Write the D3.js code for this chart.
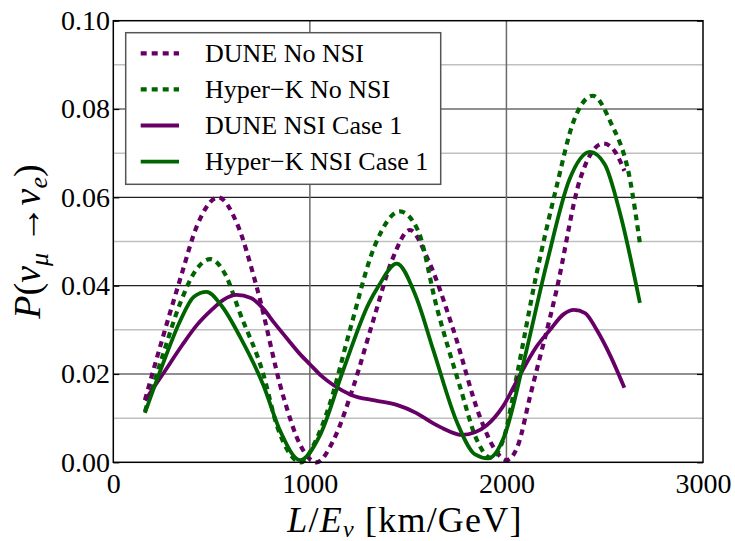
<!DOCTYPE html>
<html>
<head>
<meta charset="utf-8">
<script src="https://cdn.jsdelivr.net/npm/d3@7"></script>
<style>
  html, body { margin: 0; padding: 0; background: #fff; }
  svg { display: block; font-family: "Liberation Serif", "DejaVu Serif", serif; }
</style>
</head>
<body>
<svg id="chart" width="735" height="541"></svg>
<script>
// ---- Data ----
const xTicks = [0, 1000, 2000, 3000];
const yTicks = [0.00, 0.02, 0.04, 0.06, 0.08, 0.10];
const yMinor = [0.01, 0.03, 0.05, 0.07, 0.09];

const duneNoNsiX = [161, 250, 339, 430, 534, 630, 729, 865, 950, 1035, 1120, 1221, 1323, 1420, 1509, 1600, 1730, 1865, 1940, 2001, 2060, 2120, 2255, 2374, 2493, 2550, 2600];
const duneNoNsiP = [0.0141, 0.028, 0.0413, 0.054, 0.060, 0.054, 0.0398, 0.0149, 0.004, 0.0, 0.005, 0.0171, 0.0322, 0.046, 0.0526, 0.046, 0.030, 0.0103, 0.003, 0.0005, 0.004, 0.0149, 0.039, 0.064, 0.0722, 0.0705, 0.066];

const hkNoNsiX = [161, 250, 340, 420, 493, 570, 645, 763, 831, 900, 955, 1020, 1100, 1204, 1330, 1458, 1550, 1645, 1764, 1850, 1920, 1990, 2052, 2150, 2255, 2340, 2439, 2530, 2629, 2679];
const hkNoNsiP = [0.0115, 0.024, 0.036, 0.0435, 0.046, 0.0425, 0.0337, 0.020, 0.0085, 0.0018, 0.0, 0.004, 0.013, 0.030, 0.049, 0.0568, 0.0525, 0.0352, 0.0171, 0.005, 0.001, 0.006, 0.0194, 0.042, 0.0624, 0.077, 0.083, 0.077, 0.0639, 0.0496];

const duneNsiX = [161, 254, 350, 424, 500, 560, 628, 700, 763, 820, 899, 950, 1000, 1060, 1119, 1213, 1330, 1442, 1540, 1628, 1700, 1772, 1840, 1900, 1980, 2069, 2150, 2222, 2290, 2344, 2400, 2459, 2530, 2600];
const duneNsiP = [0.014, 0.0201, 0.0265, 0.031, 0.0345, 0.0368, 0.0379, 0.0372, 0.0348, 0.0315, 0.0272, 0.0245, 0.0222, 0.0195, 0.0175, 0.0152, 0.014, 0.013, 0.0112, 0.0088, 0.0072, 0.0062, 0.0068, 0.0084, 0.0125, 0.0198, 0.026, 0.030, 0.0335, 0.0345, 0.0338, 0.030, 0.024, 0.0169];

const hkNsiX = [161, 250, 340, 410, 475, 550, 645, 763, 850, 950, 1050, 1170, 1300, 1348, 1442, 1540, 1628, 1750, 1840, 1908, 1990, 2086, 2205, 2320, 2425, 2500, 2578, 2679];
const hkNsiP = [0.0112, 0.022, 0.032, 0.0375, 0.0386, 0.0355, 0.0284, 0.0175, 0.007, 0.0005, 0.006, 0.0209, 0.036, 0.0398, 0.045, 0.0375, 0.0254, 0.0089, 0.0018, 0.0009, 0.006, 0.0224, 0.045, 0.064, 0.0703, 0.0675, 0.0564, 0.0361];

const seriesNames = ["DUNE No NSI", "Hyper\u2212K No NSI", "DUNE NSI Case 1", "Hyper\u2212K NSI Case 1"];
const seriesColors = ["#660066", "#006400", "#660066", "#006400"];
const seriesDashed = [true, true, false, false];
const seriesX = [duneNoNsiX, hkNoNsiX, duneNsiX, hkNsiX];
const seriesP = [duneNoNsiP, hkNoNsiP, duneNsiP, hkNsiP];

// ---- Layout ----
const X0 = 113.3, X1 = 703, Y0 = 20.7, Y1 = 462.3;
const svg = d3.select("#chart");
const x = d3.scaleLinear().domain([0, 3000]).range([X0, X1]);
const y = d3.scaleLinear().domain([0, 0.1]).range([Y1, Y0]);

// grid: minor horizontal
svg.append("g").selectAll("line").data(yMinor).join("line")
  .attr("x1", X0).attr("x2", X1)
  .attr("y1", d => y(d)).attr("y2", d => y(d))
  .attr("stroke", "#c0c0c0").attr("stroke-width", 1.5);
// major horizontal
svg.append("g").selectAll("line").data(yTicks.filter(d => d > 0 && d < 0.1)).join("line")
  .attr("x1", X0).attr("x2", X1)
  .attr("y1", d => y(d)).attr("y2", d => y(d))
  .attr("stroke", "#222").attr("stroke-width", 1.2);
// vertical
svg.append("g").selectAll("line").data(xTicks.filter(d => d > 0 && d < 3000)).join("line")
  .attr("x1", d => x(d)).attr("x2", d => x(d))
  .attr("y1", Y0).attr("y2", Y1)
  .attr("stroke", "#6a6a6a").attr("stroke-width", 1.5);

// curves
const line = d3.line().curve(d3.curveMonotoneX);
seriesNames.forEach((name, i) => {
  const pts = seriesX[i].map((v, j) => [x(v), y(seriesP[i][j])]);
  svg.append("path")
    .attr("d", line(pts))
    .attr("fill", "none")
    .attr("stroke", seriesColors[i])
    .attr("stroke-width", seriesDashed[i] ? 4.2 : 3.8)
    .attr("stroke-dasharray", seriesDashed[i] ? "6,5" : null)
    .attr("stroke-linejoin", "round");
});

// frame
svg.append("rect").attr("x", X0).attr("y", Y0).attr("width", X1 - X0).attr("height", Y1 - Y0)
  .attr("fill", "none").attr("stroke", "#000").attr("stroke-width", 1.5);

// axes
const yAxis = d3.axisLeft(y).tickValues(yTicks).tickFormat(d3.format(".2f")).tickSize(0).tickPadding(3.3);
const gy = svg.append("g").attr("transform", `translate(${X0},0)`).call(yAxis);
gy.select(".domain").remove();
gy.selectAll("text").attr("font-size", 28).attr("font-family", "Liberation Serif").attr("fill", "#000");

const xAxis = d3.axisBottom(x).tickValues(xTicks).tickFormat(d3.format("d")).tickSize(0).tickPadding(11);
const gx = svg.append("g").attr("transform", `translate(0,${Y1})`).call(xAxis);
gx.select(".domain").remove();
gx.selectAll("text").attr("font-size", 28).attr("font-family", "Liberation Serif").attr("fill", "#000");

// small inward ticks on left/right
[d3.axisRight(y).tickValues(yTicks).tickSize(6).tickFormat(""), d3.axisLeft(y).tickValues(yTicks).tickSize(6).tickFormat("")]
  .forEach((ax, k) => {
    const g = svg.append("g").attr("transform", `translate(${k === 0 ? X0 : X1},0)`).call(ax);
    g.select(".domain").remove();
    g.selectAll("line").attr("stroke", "#000").attr("stroke-width", 1.2);
  });

// legend
const lg = svg.append("g");
lg.append("rect").attr("x", 125.7).attr("y", 32.7).attr("width", 315).attr("height", 151.6)
  .attr("fill", "#fff").attr("stroke", "#555").attr("stroke-width", 1.5);
seriesNames.forEach((name, i) => {
  const cy = 53.3 + i * 36.1;
  lg.append("line").attr("x1", 140.7).attr("x2", 179).attr("y1", cy).attr("y2", cy)
    .attr("stroke", seriesColors[i]).attr("stroke-width", seriesDashed[i] ? 4.2 : 3.8)
    .attr("stroke-dasharray", seriesDashed[i] ? "6,5" : null);
  lg.append("text").attr("x", 205).attr("y", cy + 8.4).attr("font-size", 26).attr("fill", "#000").text(name);
});

// x label
const xl = svg.append("text").attr("x", 405).attr("y", 532).attr("text-anchor", "middle")
  .attr("font-size", 36).attr("letter-spacing", 1.2).attr("fill", "#000");
xl.append("tspan").attr("font-style", "italic").text("L");
xl.append("tspan").text("/");
xl.append("tspan").attr("font-style", "italic").text("E");
xl.append("tspan").attr("font-style", "italic").attr("font-size", 24).attr("dy", 5).text("ν");
xl.append("tspan").attr("dy", -5).text(" [km/GeV]");

// y label
const yl = svg.append("text").attr("transform", `translate(40,${(Y0 + Y1) / 2}) rotate(-90)`)
  .attr("text-anchor", "middle").attr("font-size", 38).attr("fill", "#000");
yl.append("tspan").attr("font-style", "italic").text("P");
yl.append("tspan").text("(");
yl.append("tspan").attr("font-style", "italic").text("ν");
yl.append("tspan").attr("font-style", "italic").attr("font-size", 26).attr("dy", 8).text("μ");
yl.append("tspan").attr("dy", -8).text(" \u2192");
yl.append("tspan").attr("font-style", "italic").text("ν");
yl.append("tspan").attr("font-style", "italic").attr("font-size", 26).attr("dy", 7).text("e");
yl.append("tspan").attr("dy", -7).text(")");
</script>
</body>
</html>
